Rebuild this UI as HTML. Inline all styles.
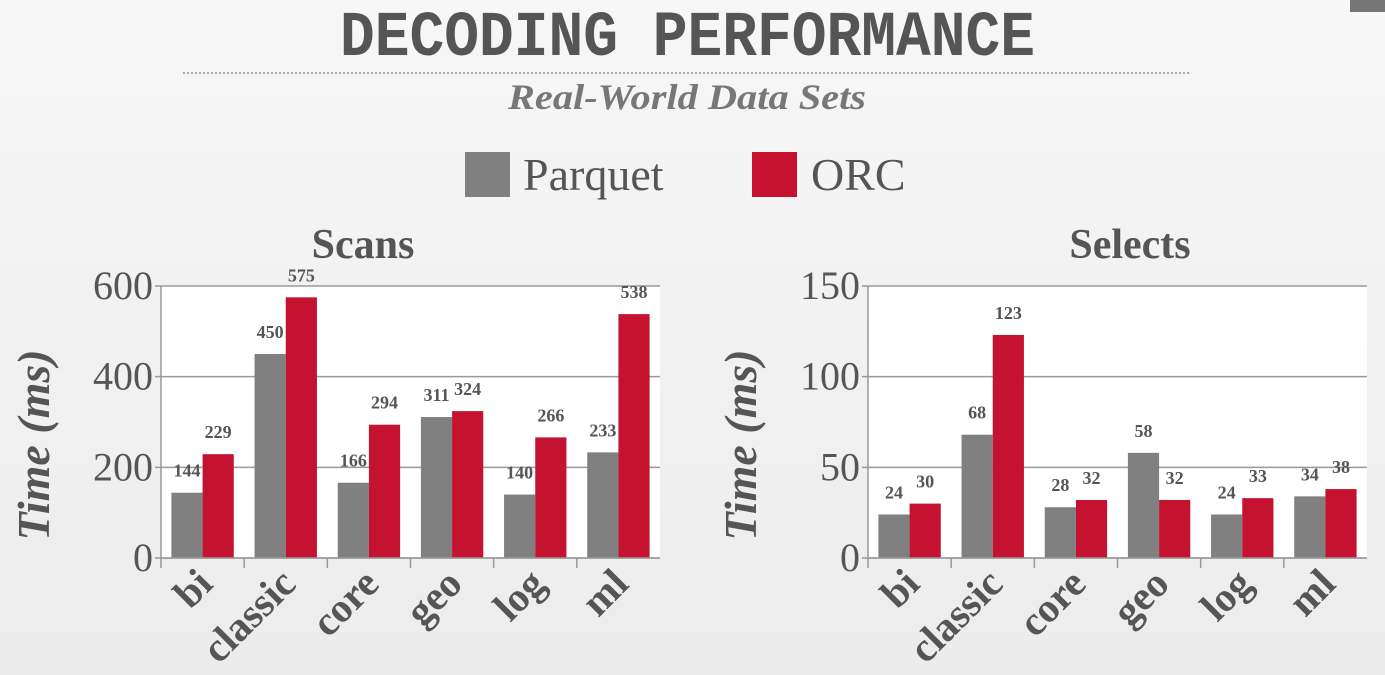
<!DOCTYPE html>
<html><head><meta charset="utf-8"><style>
html,body{margin:0;padding:0;}
body{width:1385px;height:675px;overflow:hidden;background:linear-gradient(#f7f7f7,#ececec);}
svg{display:block;}
</style></head><body>
<svg id="s" width="1385" height="675" xmlns="http://www.w3.org/2000/svg">
<rect x="1350" y="0" width="35" height="12" fill="#777"/>
<text x="340" y="55" textLength="695" lengthAdjust="spacingAndGlyphs" font-family="Liberation Mono, monospace" font-weight="bold" font-size="64" fill="#555">DECODING PERFORMANCE</text>
<line x1="183" y1="73" x2="1190" y2="73" stroke="#aaa" stroke-width="2" stroke-dasharray="2,2"/>
<text x="508" y="109" textLength="358" lengthAdjust="spacingAndGlyphs" font-family="Liberation Serif, serif" font-style="italic" font-weight="bold" font-size="36" fill="#777">Real-World Data Sets</text>
<g>
<rect x="465" y="152" width="45" height="45" fill="#808080"/>
<text x="523" y="190" font-family="Liberation Serif, serif" font-size="46" fill="#555">Parquet</text>
<rect x="752" y="152" width="45" height="45" fill="#c41230"/>
<text x="811" y="190" font-family="Liberation Serif, serif" font-size="46" fill="#555">ORC</text>
</g>
</svg>
<script>
const categories=["bi","classic","core","geo","log","ml"];
const scanParquet=[144,450,166,311,140,233];
const scanOrc=[229,575,294,324,266,538];
const selParquet=[24,68,28,58,24,34];
const selOrc=[30,123,32,32,33,38];
const scanTicks=[0,200,400,600];
const selTicks=[0,50,100,150];
const NS="http://www.w3.org/2000/svg";
const svg=document.getElementById('s');
function mk(tag,attrs,parent,txt){const e=document.createElementNS(NS,tag);for(const k in attrs)e.setAttribute(k,attrs[k]);if(txt!==undefined)e.textContent=txt;(parent||svg).appendChild(e);return e;}
function chart(prefix,title,x0,x1,max,ticks,pv,ov,titleX){
  const g=mk('g',{});
  
  
  const yT=286,yB=558;
  const y=v=>yB-(v/max)*(yB-yT);
  const gw=(x1-x0)/categories.length;
  const bg=mk('rect',{x:x0,y:yT,width:x1-x0,height:yB-yT,fill:'#fff'},g);
  
  
  ticks.forEach(t=>{
    const l=mk('line',{x1:x0-6,x2:x1,y1:y(t),y2:y(t),stroke:'#999','stroke-width':1.5},g);
    
    
    const tl=mk('text',{x:x0-8,y:y(t)+13,'text-anchor':'end','font-family':'Liberation Serif, serif','font-size':40,fill:'#555'},g,String(t));
    
    
  });
  const ax=mk('line',{x1:x0,x2:x0,y1:yT,y2:yB,stroke:'#999','stroke-width':1.5},g);
  
  
  const tt=mk('text',{x:titleX,y:258,'text-anchor':'middle','font-family':'Liberation Serif, serif','font-weight':'bold','font-size':42,fill:'#555'},g,title);
  
  
  const yt=mk('text',{transform:`translate(${x0-112},445) rotate(-90)`,'text-anchor':'middle','font-family':'Liberation Serif, serif','font-style':'italic','font-weight':'bold','font-size':46,fill:'#555'},g,'Time (ms)');
  
  
  const bw=gw*0.375,off=gw*0.125;
  categories.forEach((c,i)=>{
    const gx=x0+i*gw;
    const tk=mk('line',{x1:gx,x2:gx,y1:yB,y2:yB+10,stroke:'#999','stroke-width':1.5},g);
    
    
    [[pv[i],'#808080','parquet',0],[ov[i],'#c41230','orc',1]].forEach(([v,col,nm,k])=>{
      const bx=gx+off+k*bw;
      const b=mk('rect',{x:bx,y:y(v),width:bw,height:yB-y(v),fill:col},g);
      
      
      const vl=mk('text',{x:bx+bw/2,y:y(v)-16,'text-anchor':'middle','font-family':'Liberation Serif, serif','font-weight':'bold','font-size':18,fill:'#555'},g,String(v));
      
      
    });
    const cx=gx+gw/2+12;
    const xl=mk('text',{transform:`translate(${cx},586) rotate(-45)`,'text-anchor':'end','font-family':'Liberation Serif, serif','font-weight':'bold','font-size':41,fill:'#555'},g,c);
    
    
  });
  const bx=mk('line',{x1:x0,x2:x1,y1:yB,y2:yB,stroke:'#999','stroke-width':1.5},g);
  
  
}
chart('scans','Scans',161,660,600,scanTicks,scanParquet,scanOrc,363);
chart('selects','Selects',868,1367,150,selTicks,selParquet,selOrc,1130);
</script>
</body></html>
